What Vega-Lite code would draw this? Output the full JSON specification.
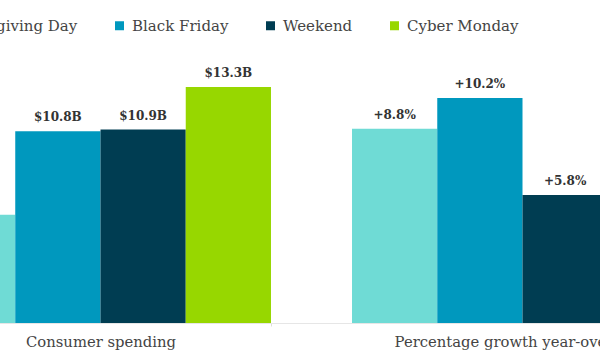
{
  "$schema": "https://vega.github.io/schema/vega-lite/v6.json",
  "width": 600,
  "height": 323,
  "autosize": "none",
  "padding": {"left": 0, "top": 0, "right": 0, "bottom": 37},
  "background": "white",
  "config": {
    "view": {"stroke": null},
    "font": "DejaVu Serif"
  },
  "data": {
    "values": [
      {"metric": "Consumer spending", "event": "Thanksgiving Day", "value": 6.1, "label": "$6.1B"},
      {"metric": "Consumer spending", "event": "Black Friday", "value": 10.8, "label": "$10.8B"},
      {"metric": "Consumer spending", "event": "Weekend", "value": 10.9, "label": "$10.9B"},
      {"metric": "Consumer spending", "event": "Cyber Monday", "value": 13.3, "label": "$13.3B"},
      {"metric": "Percentage growth year-over-year", "event": "Thanksgiving Day", "value": 8.8, "label": "+8.8%"},
      {"metric": "Percentage growth year-over-year", "event": "Black Friday", "value": 10.2, "label": "+10.2%"},
      {"metric": "Percentage growth year-over-year", "event": "Weekend", "value": 5.8, "label": "+5.8%"},
      {"metric": "Percentage growth year-over-year", "event": "Cyber Monday", "value": 7.3, "label": "+7.3%"}
    ]
  },
  "encoding": {
    "x": {
      "field": "metric",
      "type": "nominal",
      "sort": ["Consumer spending", "Percentage growth year-over-year"],
      "scale": {"range": [-70, 693], "paddingInner": 0.192, "paddingOuter": 0},
      "axis": {
        "title": null,
        "labelAngle": 0,
        "labelFont": "DejaVu Serif",
        "labelFontSize": 14.8,
        "labelColor": "#444444",
        "labelPadding": 8,
        "labelLimit": 0,
        "domainColor": "#e6e6e6",
        "domainWidth": 1,
        "ticks": true,
        "tickBand": "extent",
        "tickColor": "#dddddd",
        "tickSize": 3
      }
    },
    "xOffset": {
      "field": "event",
      "type": "nominal",
      "sort": ["Thanksgiving Day", "Black Friday", "Weekend", "Cyber Monday"],
      "scale": {"paddingInner": 0, "paddingOuter": 0}
    }
  },
  "layer": [
    {
      "transform": [{"filter": "datum.metric === 'Consumer spending'"}],
      "encoding": {
        "y": {"field": "value", "type": "quantitative", "scale": {"domain": [0, 18.2], "nice": false}, "axis": null}
      },
      "layer": [
        {
          "mark": {"type": "bar"},
          "encoding": {
            "color": {
              "field": "event",
              "type": "nominal",
              "sort": ["Thanksgiving Day", "Black Friday", "Weekend", "Cyber Monday"],
              "scale": {"domain": ["Thanksgiving Day", "Black Friday", "Weekend", "Cyber Monday"], "range": ["#6FDBD5", "#0098BE", "#003D52", "#97D700"]},
              "legend": {
                "title": null,
                "orient": "none",
                "direction": "horizontal",
                "legendX": -79,
                "legendY": 18,
                "symbolType": "square",
                "symbolSize": 81,
                "symbolStrokeWidth": 0,
                "symbolOpacity": 1,
                "labelFont": "DejaVu Serif",
                "labelFontSize": 15,
                "labelColor": "#444444",
                "labelOffset": 5,
                "labelLimit": 0,
                "columnPadding": 34
              }
            }
          }
        },
        {
          "mark": {"type": "text", "baseline": "middle", "dy": -14, "font": "DejaVu Serif", "fontWeight": "bold", "fontSize": 12, "color": "#333333"},
          "encoding": {"text": {"field": "label"}}
        }
      ]
    },
    {
      "transform": [{"filter": "datum.metric === 'Percentage growth year-over-year'"}],
      "encoding": {
        "y": {"field": "value", "type": "quantitative", "scale": {"domain": [0, 14.64], "nice": false}, "axis": null}
      },
      "layer": [
        {
          "mark": {"type": "bar"},
          "encoding": {
            "color": {
              "field": "event",
              "type": "nominal",
              "sort": ["Thanksgiving Day", "Black Friday", "Weekend", "Cyber Monday"],
              "scale": {"domain": ["Thanksgiving Day", "Black Friday", "Weekend", "Cyber Monday"], "range": ["#6FDBD5", "#0098BE", "#003D52", "#97D700"]}
            }
          }
        },
        {
          "mark": {"type": "text", "baseline": "middle", "dy": -14, "font": "DejaVu Serif", "fontWeight": "bold", "fontSize": 12, "color": "#333333"},
          "encoding": {"text": {"field": "label"}}
        }
      ]
    }
  ],
  "resolve": {"scale": {"y": "independent"}}
}
